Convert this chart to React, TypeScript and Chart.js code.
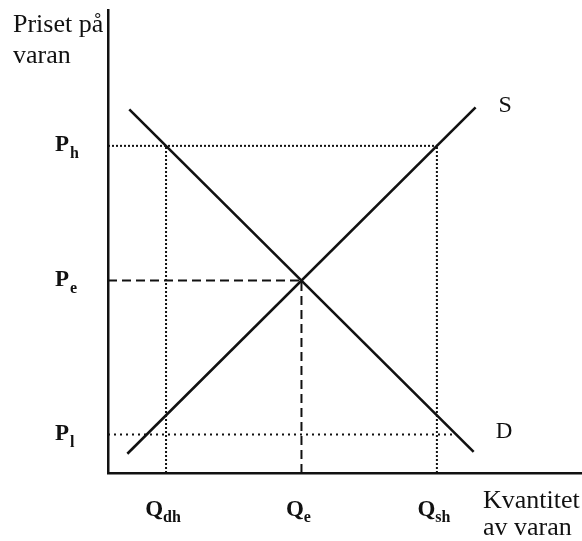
import React, { useEffect, useRef } from "react";
import { Chart, registerables } from "chart.js";

Chart.register(...registerables);

// Quantities (x axis) and prices (y axis)
const qSubs = ["dh", "e", "sh"];
const qValues = [1.5, 5, 8.5];
const pSubs = ["h", "e", "l"];
const pValues = [8.5, 5, 1];

// Supply and demand curves (end points)
const supplyX = [0.5, 9.5];
const supplyY = [0.5, 9.5];
const demandX = [0.55, 9.45];
const demandY = [9.45, 0.55];

// Texts
const yTitle = ["Priset på", "varan"];
const xTitle = ["Kvantitet", "av varan"];
const supplyName = "S";
const demandName = "D";

const X_MAX = 12.25;
const Y_MAX = 12.03;

const SERIF = '"Liberation Serif", "Times New Roman", serif';
const INK = "#111";

function demandXAt(y: number) {
  const t = (y - demandY[0]) / (demandY[1] - demandY[0]);
  return demandX[0] + t * (demandX[1] - demandX[0]);
}

const [Ph, Pe, Pl] = pValues;
const [Qdh, Qe, Qsh] = qValues;

const labelPlugin = {
  id: "labels",
  afterDatasetsDraw(chart: any) {
    const { ctx, chartArea, scales } = chart;
    const xs = scales.x;
    const ys = scales.y;
    ctx.save();
    ctx.fillStyle = INK;
    ctx.textBaseline = "alphabetic";

    // axis titles
    ctx.font = `26px ${SERIF}`;
    ctx.textAlign = "left";
    ctx.fillText(yTitle[0], chartArea.left - 95, chartArea.top + 22);
    ctx.fillText(yTitle[1], chartArea.left - 95, chartArea.top + 53);
    ctx.fillText(xTitle[0], chartArea.left + 375, chartArea.bottom + 35);
    ctx.fillText(xTitle[1], chartArea.left + 375, chartArea.bottom + 62);

    // price labels
    pValues.forEach((v, i) => {
      const y = ys.getPixelForValue(v);
      const x0 = chartArea.left - 53;
      ctx.font = `bold 23px ${SERIF}`;
      ctx.textAlign = "left";
      ctx.fillText("P", x0, y + 5);
      const w = ctx.measureText("P").width;
      ctx.font = `bold 16px ${SERIF}`;
      ctx.fillText(pSubs[i], x0 + w + 1, y + 12);
    });

    // quantity labels
    qValues.forEach((v, i) => {
      const cx = xs.getPixelForValue(v) - 3;
      ctx.font = `bold 23px ${SERIF}`;
      const wQ = ctx.measureText("Q").width;
      ctx.font = `bold 16px ${SERIF}`;
      const wS = ctx.measureText(qSubs[i]).width;
      const total = wQ + wS;
      const left = cx - total / 2;
      ctx.textAlign = "left";
      ctx.font = `bold 23px ${SERIF}`;
      ctx.fillText("Q", left, chartArea.bottom + 43);
      ctx.font = `bold 16px ${SERIF}`;
      ctx.fillText(qSubs[i], left + wQ, chartArea.bottom + 49);
    });

    // curve names
    ctx.font = `24px ${SERIF}`;
    ctx.textAlign = "left";
    ctx.fillText(
      supplyName,
      xs.getPixelForValue(supplyX[1]) + 23,
      ys.getPixelForValue(supplyY[1]) + 5
    );
    ctx.font = `23px ${SERIF}`;
    ctx.fillText(
      demandName,
      xs.getPixelForValue(demandX[1]) + 22,
      ys.getPixelForValue(demandY[1]) - 14
    );
    ctx.restore();
  },
};

function seg(x0: number, y0: number, x1: number, y1: number) {
  return [
    { x: x0, y: y0 },
    { x: x1, y: y1 },
  ];
}

export default function App() {
  const ref = useRef<HTMLCanvasElement | null>(null);

  useEffect(() => {
    if (!ref.current) return;
    const base = {
      borderColor: INK,
      pointRadius: 0,
      pointHoverRadius: 0,
      fill: false,
      tension: 0,
    };
    const chart = new Chart(ref.current, {
      type: "line",
      data: {
        datasets: [
          {
            ...base,
            label: "Ph",
            data: seg(0, Ph, Qsh, Ph),
            borderWidth: 2,
            borderDash: [2, 2],
          },
          {
            ...base,
            label: "Pl",
            data: seg(0, Pl, demandXAt(Pl), Pl),
            borderWidth: 2,
            borderDash: [2, 4],
          },
          {
            ...base,
            label: "Qdh",
            data: seg(Qdh, 0, Qdh, Ph),
            borderWidth: 2,
            borderDash: [2, 2],
          },
          {
            ...base,
            label: "Qsh",
            data: seg(Qsh, 0, Qsh, Ph),
            borderWidth: 2,
            borderDash: [2, 2],
          },
          {
            ...base,
            label: "Pe",
            data: seg(0, Pe, Qe, Pe),
            borderWidth: 2,
            borderDash: [9, 5],
          },
          {
            ...base,
            label: "Qe",
            data: seg(Qe, 0, Qe, Pe),
            borderWidth: 2,
            borderDash: [9, 5],
          },
          {
            ...base,
            label: "S",
            data: seg(supplyX[0], supplyY[0], supplyX[1], supplyY[1]),
            borderWidth: 2.6,
          },
          {
            ...base,
            label: "D",
            data: seg(demandX[0], demandY[0], demandX[1], demandY[1]),
            borderWidth: 2.6,
          },
        ],
      },
      options: {
        animation: false,
        responsive: false,
        events: [],
        layout: { padding: { left: 108, top: 10, right: 0, bottom: 68 } },
        plugins: {
          legend: { display: false },
          tooltip: { enabled: false },
        },
        scales: {
          x: {
            type: "linear",
            min: 0,
            max: X_MAX,
            grid: { display: false, drawTicks: false },
            ticks: { display: false },
            border: { display: true, color: INK, width: 2.5 },
          },
          y: {
            type: "linear",
            min: 0,
            max: Y_MAX,
            grid: { display: false, drawTicks: false },
            ticks: { display: false },
            border: { display: true, color: INK, width: 2.5 },
          },
        },
      },
      plugins: [labelPlugin],
    } as any);
    return () => chart.destroy();
  }, []);

  return (
    <div
      style={{
        position: "absolute",
        left: 0,
        top: 0,
        width: 582,
        height: 541,
        background: "#fff",
      }}
    >
      <canvas ref={ref} width={582} height={541} style={{ display: "block" }} />
    </div>
  );
}
